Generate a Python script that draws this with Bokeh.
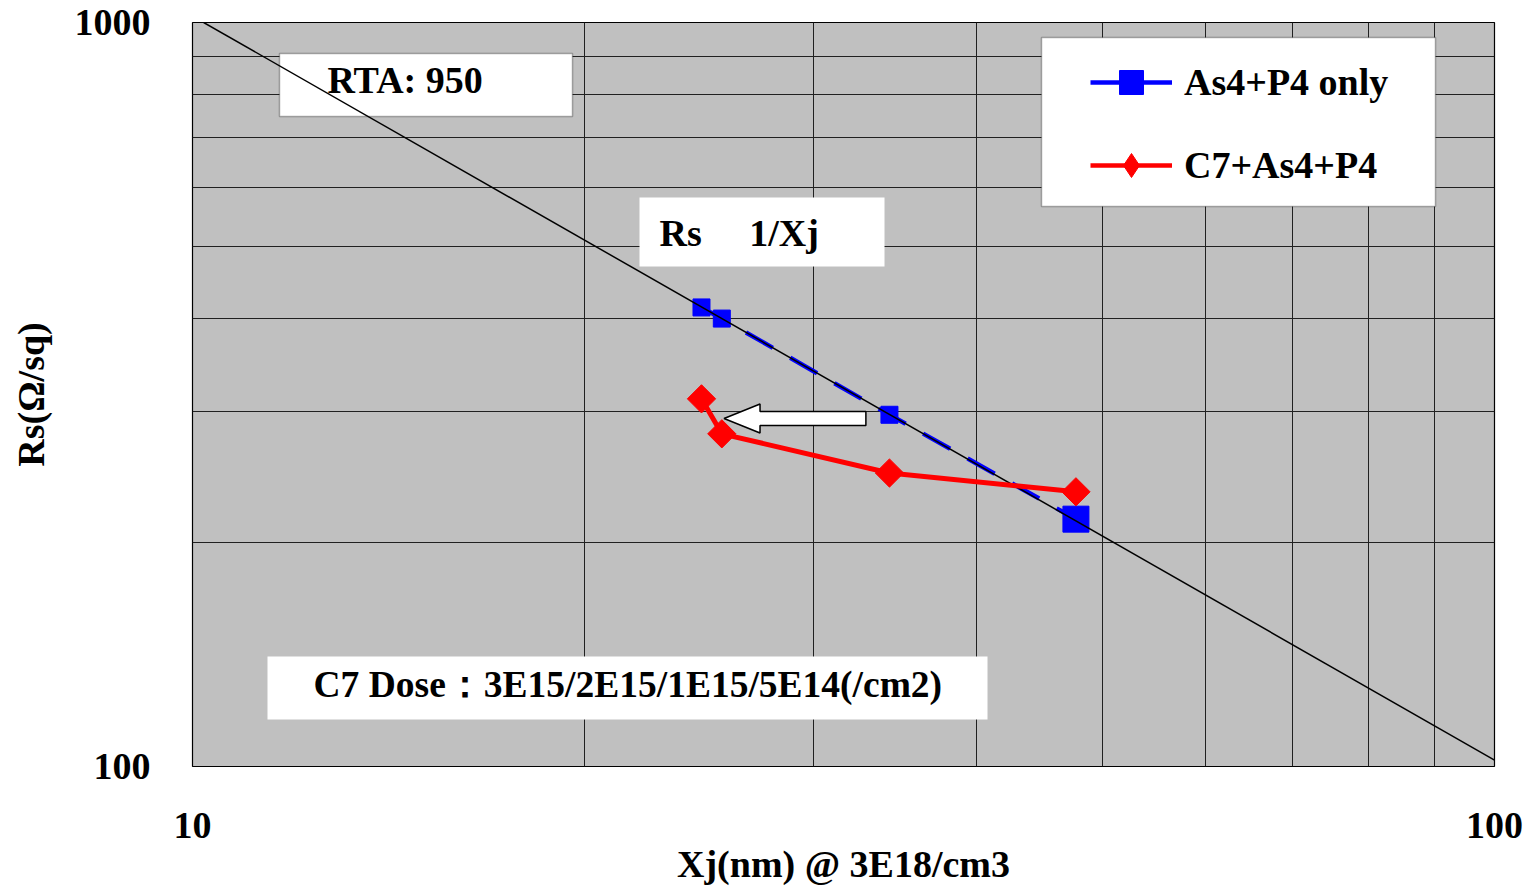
import numpy as np
from bokeh.plotting import figure
from bokeh.models import (ColumnDataSource, FixedTicker, BoxAnnotation, Label,
                          Legend, LegendItem)
from bokeh.embed import file_html
from bokeh.resources import INLINE

# ---------------- data ----------------
xj_as4p4 = [24.6, 25.5, 34.3, 47.7]          # Xj (nm), As4+P4 only
rs_as4p4 = [414, 400, 297, 215]              # Rs (ohm/sq)
xj_c7 = [24.6, 25.5, 34.3, 47.7]             # Xj (nm), C7+As4+P4
rs_c7 = [312, 280, 248, 234]                 # Rs (ohm/sq)
rs_xj_const = 10200                          # guide line Rs = K / Xj
guide_xj = [10.2, 100]
x_ticks = [10, 100]
y_ticks = [100, 1000]
x_grid = [10, 20, 30, 40, 50, 60, 70, 80, 90, 100]
y_grid = [100, 200, 300, 400, 500, 600, 700, 800, 900, 1000]
arrow_tip_xj, arrow_tail_xj, arrow_rs = 25.6, 32.9, 293.6

series_names = ["As4+P4 only", "C7+As4+P4"]
rta_text = "RTA: 950"
prop_text = "Rs" + "\u00a0" * 5 + "1/Xj"
dose_text = "C7 Dose\uff1a3E15/2E15/1E15/5E14(/cm2)"
x_title = "Xj(nm) @ 3E18/cm3"
y_title = "Rs(\u03a9/sq)"

# ---------------- layout constants ----------------
FW, FH = 1302, 744
ML, MR, MT, MB = 192, 34, 22, 124
FONT = "Liberation Serif"
BLUE, RED, BG = "#0000FF", "#FF0000", "#C0C0C0"

p = figure(frame_width=FW, frame_height=FH,
           x_axis_type="log", y_axis_type="log",
           x_range=(10, 100), y_range=(100, 1000),
           min_border_left=ML, min_border_right=MR,
           min_border_top=MT, min_border_bottom=MB,
           output_backend="svg", toolbar_location=None)
p.background_fill_color = BG
p.border_fill_color = "white"
p.outline_line_color = "black"
p.outline_line_width = 1.2

# axes
for ax, ticks in ((p.xaxis, x_ticks), (p.yaxis, y_ticks)):
    ax.ticker = FixedTicker(ticks=ticks)
    ax.major_label_overrides = {t: str(t) for t in ticks}
    ax.major_tick_out = 0
    ax.major_tick_in = 0
    ax.minor_tick_out = 0
    ax.minor_tick_in = 0
    ax.axis_line_color = None
    ax.major_label_text_font = FONT
    ax.major_label_text_font_style = "bold"
    ax.major_label_text_font_size = "38px"
    ax.major_label_text_color = "black"
    ax.axis_label_text_font = FONT
    ax.axis_label_text_font_style = "bold"
    ax.axis_label_text_font_size = "38px"
    ax.axis_label_text_color = "black"
p.xaxis.axis_label = x_title
p.yaxis.axis_label = y_title
p.xaxis.major_label_standoff = 46
p.xaxis.axis_label_standoff = 2
p.yaxis.major_label_standoff = 42
p.yaxis.axis_label_standoff = 20

# grid
p.xgrid.ticker = FixedTicker(ticks=x_grid)
p.ygrid.ticker = FixedTicker(ticks=y_grid)
for g in (p.xgrid, p.ygrid):
    g.grid_line_color = "#202020"
    g.grid_line_width = 1
    g.grid_line_alpha = 1


def scr_box(l, r, t, b, **kw):
    """box in canvas pixels -> frame screen units (y from frame bottom)"""
    return BoxAnnotation(left=l - ML, right=r - ML, top=MT + FH - t, bottom=MT + FH - b,
                         left_units="screen", right_units="screen",
                         top_units="screen", bottom_units="screen", **kw)


def scr_label(x, y, text, size="38px", **kw):
    return Label(x=x - ML, y=MT + FH - y, x_units="screen", y_units="screen", text=text,
                 text_font=FONT, text_font_style="bold", text_font_size=size,
                 text_color="black", text_baseline="middle", **kw)


# white text boxes under the data
p.add_layout(scr_box(279, 572, 53, 116, fill_color="white", fill_alpha=1,
                     line_color="black", line_width=1.5, level="underlay"))
p.add_layout(scr_box(639, 884, 197, 266, fill_color="white", fill_alpha=1,
                     line_color=None, level="underlay"))
p.add_layout(scr_box(267, 987, 656, 719, fill_color="white", fill_alpha=1,
                     line_color=None, level="underlay"))
p.add_layout(scr_label(327, 79, rta_text, level="underlay"))
p.add_layout(scr_label(659, 232, prop_text, level="underlay"))
p.add_layout(scr_label(313, 684, dose_text, size="37.5px", level="underlay"))

# series
src_as = ColumnDataSource(dict(x=xj_as4p4, y=rs_as4p4,
                               s=[17] * (len(xj_as4p4) - 1) + [26]))
src_c7 = ColumnDataSource(dict(x=xj_c7, y=rs_c7))

p.line("x", "y", source=src_as, line_color=BLUE, line_width=4.5, line_dash="31 20")
p.scatter("x", "y", source=src_as, marker="square", size="s",
          fill_color=BLUE, line_color=BLUE)

gx = np.array(guide_xj, dtype=float)
p.line(gx, rs_xj_const / gx, line_color="black", line_width=1.5)

p.line("x", "y", source=src_c7, line_color=RED, line_width=5)
p.scatter("x", "y", source=src_c7, marker="square", angle=np.pi / 4, size=20,
          fill_color=RED, line_color=RED)

# block arrow (pixel offsets converted through the log scales)
def off(xv, yv, dx, dy):
    return xv * 10 ** (dx / FW), yv * 10 ** (-dy / FH)

head_len, head_half, shaft_half = 36, 14.5, 7
pts = [off(arrow_tip_xj, arrow_rs, 0, 0),
       off(arrow_tip_xj, arrow_rs, head_len, -head_half),
       off(arrow_tip_xj, arrow_rs, head_len, -shaft_half),
       off(arrow_tail_xj, arrow_rs, 0, -shaft_half),
       off(arrow_tail_xj, arrow_rs, 0, shaft_half),
       off(arrow_tip_xj, arrow_rs, head_len, shaft_half),
       off(arrow_tip_xj, arrow_rs, head_len, head_half)]
p.patch([q[0] for q in pts], [q[1] for q in pts], fill_color="white",
        line_color="black", line_width=1.5)

# legend proxies: solid lines + markers, drawn outside the visible range
off_x, off_y = [1, 2], [1, 2]
leg_blue_line = p.line(off_x, off_y, line_color=BLUE, line_width=4.5)
leg_blue_mk = p.scatter(off_x, off_y, marker="square", fill_color=BLUE, line_color=BLUE)
leg_red_line = p.line(off_x, off_y, line_color=RED, line_width=4.5)
leg_red_mk = p.scatter(off_x, off_y, marker="diamond", fill_color=RED, line_color=RED)

p.add_layout(scr_box(1041, 1435, 37, 206, fill_color="white", fill_alpha=1,
                     line_color="black", line_width=1.5))
legend = Legend(items=[LegendItem(label=series_names[0], renderers=[leg_blue_line, leg_blue_mk], index=0),
                       LegendItem(label=series_names[1], renderers=[leg_red_line, leg_red_mk], index=0)],
                location=(1090 - ML, MT + FH - 195), margin=0, padding=0,
                glyph_width=82, glyph_height=60, spacing=23, label_standoff=12,
                label_text_font=FONT, label_text_font_style="bold",
                label_text_font_size="38px", label_text_color="black",
                border_line_color=None, background_fill_alpha=0)
p.add_layout(legend)

open("out.html", "w").write(file_html(p, INLINE))
